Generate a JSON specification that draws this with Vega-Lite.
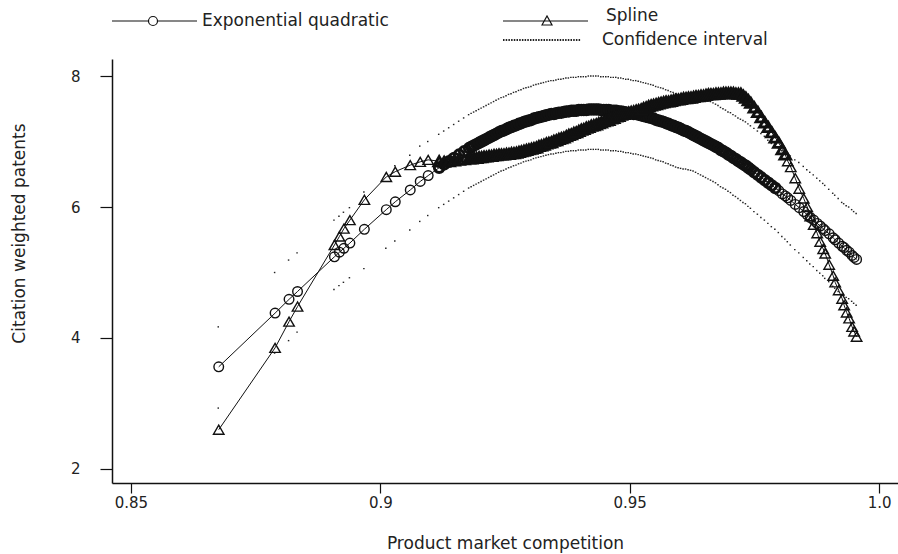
{
"$schema":"https://vega.github.io/schema/vega-lite/v6.json",
"width":786,"height":424,
"autosize":{"type":"none"},
"padding":{"left":112,"top":59,"right":0,"bottom":71},
"background":"white",
"config":{
 "view":{"stroke":null},
 "font":"DejaVu Sans",
 "axis":{"grid":false,"domainColor":"#111","domainWidth":1.5,"tickColor":"#111","tickWidth":1.2,"labelFont":"DejaVu Sans","labelFontSize":15,"labelColor":"#222","titleFont":"DejaVu Sans","titleFontSize":17,"titleFontWeight":"normal","titleColor":"#222","labelFlush":false,"labelOverlap":false},
 "legend":{"labelFont":"DejaVu Sans","labelFontSize":17,"labelColor":"#222","padding":0,"labelLimit":0}
},
"data":{"values":[
{"x":0.8676,"e":3.56,"s":2.6,"lo":2.93,"hi":4.17},
{"x":0.8789,"e":4.38,"s":3.85,"lo":3.77,"hi":5.0},
{"x":0.8817,"e":4.59,"s":4.25,"lo":3.96,"hi":5.19},
{"x":0.8834,"e":4.71,"s":4.48,"lo":4.09,"hi":5.3},
{"x":0.8908,"e":5.24,"s":5.42,"lo":4.74,"hi":5.8},
{"x":0.8918,"e":5.31,"s":5.55,"lo":4.8,"hi":5.86},
{"x":0.8927,"e":5.37,"s":5.67,"lo":4.85,"hi":5.92},
{"x":0.8939,"e":5.45,"s":5.8,"lo":4.92,"hi":5.99},
{"x":0.8968,"e":5.66,"s":6.11,"lo":5.06,"hi":6.23},
{"x":0.9012,"e":5.96,"s":6.46,"lo":5.37,"hi":6.51},
{"x":0.903,"e":6.08,"s":6.54,"lo":5.48,"hi":6.63},
{"x":0.906,"e":6.26,"s":6.64,"lo":5.65,"hi":6.79},
{"x":0.908,"e":6.39,"s":6.69,"lo":5.78,"hi":6.93},
{"x":0.9096,"e":6.48,"s":6.72,"lo":5.87,"hi":7.0},
{"x":0.9118,"e":6.6,"s":6.7,"lo":5.99,"hi":7.11},
{"x":0.9128,"e":6.65,"s":6.69,"lo":6.04,"hi":7.16},
{"x":0.9138,"e":6.7,"s":6.7,"lo":6.09,"hi":7.21},
{"x":0.9148,"e":6.75,"s":6.71,"lo":6.14,"hi":7.26},
{"x":0.9158,"e":6.8,"s":6.72,"lo":6.19,"hi":7.31},
{"x":0.9168,"e":6.85,"s":6.73,"lo":6.24,"hi":7.36},
{"x":0.9178,"e":6.9,"s":6.74,"lo":6.29,"hi":7.41},
{"x":0.9183,"e":6.92,"s":6.74,"lo":6.31,"hi":7.43},
{"x":0.9188,"e":6.94,"s":6.75,"lo":6.33,"hi":7.45},
{"x":0.9193,"e":6.96,"s":6.75,"lo":6.35,"hi":7.47},
{"x":0.9198,"e":6.98,"s":6.76,"lo":6.37,"hi":7.49},
{"x":0.9203,"e":7.0,"s":6.76,"lo":6.39,"hi":7.51},
{"x":0.9208,"e":7.02,"s":6.77,"lo":6.41,"hi":7.53},
{"x":0.9213,"e":7.04,"s":6.77,"lo":6.43,"hi":7.55},
{"x":0.9218,"e":7.06,"s":6.78,"lo":6.45,"hi":7.57},
{"x":0.9223,"e":7.08,"s":6.78,"lo":6.47,"hi":7.59},
{"x":0.9228,"e":7.1,"s":6.79,"lo":6.49,"hi":7.61},
{"x":0.9233,"e":7.12,"s":6.79,"lo":6.51,"hi":7.63},
{"x":0.9238,"e":7.14,"s":6.8,"lo":6.53,"hi":7.65},
{"x":0.9243,"e":7.16,"s":6.8,"lo":6.55,"hi":7.67},
{"x":0.9248,"e":7.17,"s":6.8,"lo":6.56,"hi":7.68},
{"x":0.9253,"e":7.19,"s":6.81,"lo":6.58,"hi":7.7},
{"x":0.9258,"e":7.21,"s":6.81,"lo":6.6,"hi":7.72},
{"x":0.9263,"e":7.22,"s":6.82,"lo":6.61,"hi":7.73},
{"x":0.9268,"e":7.24,"s":6.82,"lo":6.63,"hi":7.75},
{"x":0.9273,"e":7.25,"s":6.83,"lo":6.64,"hi":7.76},
{"x":0.9278,"e":7.27,"s":6.84,"lo":6.66,"hi":7.78},
{"x":0.9283,"e":7.28,"s":6.85,"lo":6.67,"hi":7.79},
{"x":0.9288,"e":7.3,"s":6.86,"lo":6.69,"hi":7.81},
{"x":0.9293,"e":7.31,"s":6.87,"lo":6.7,"hi":7.82},
{"x":0.9298,"e":7.32,"s":6.88,"lo":6.71,"hi":7.83},
{"x":0.9303,"e":7.33,"s":6.89,"lo":6.72,"hi":7.84},
{"x":0.9308,"e":7.35,"s":6.9,"lo":6.74,"hi":7.86},
{"x":0.9313,"e":7.36,"s":6.91,"lo":6.75,"hi":7.87},
{"x":0.9318,"e":7.37,"s":6.93,"lo":6.76,"hi":7.88},
{"x":0.9323,"e":7.38,"s":6.94,"lo":6.77,"hi":7.89},
{"x":0.9328,"e":7.39,"s":6.95,"lo":6.78,"hi":7.9},
{"x":0.9333,"e":7.4,"s":6.97,"lo":6.79,"hi":7.91},
{"x":0.9338,"e":7.41,"s":6.98,"lo":6.8,"hi":7.92},
{"x":0.9343,"e":7.42,"s":6.99,"lo":6.81,"hi":7.93},
{"x":0.9348,"e":7.42,"s":7.01,"lo":6.81,"hi":7.93},
{"x":0.9353,"e":7.43,"s":7.02,"lo":6.82,"hi":7.94},
{"x":0.9358,"e":7.44,"s":7.04,"lo":6.83,"hi":7.95},
{"x":0.9363,"e":7.44,"s":7.05,"lo":6.83,"hi":7.95},
{"x":0.9368,"e":7.45,"s":7.06,"lo":6.84,"hi":7.96},
{"x":0.9373,"e":7.46,"s":7.08,"lo":6.85,"hi":7.97},
{"x":0.9378,"e":7.46,"s":7.1,"lo":6.85,"hi":7.97},
{"x":0.9383,"e":7.47,"s":7.11,"lo":6.86,"hi":7.98},
{"x":0.9388,"e":7.47,"s":7.13,"lo":6.86,"hi":7.98},
{"x":0.9393,"e":7.47,"s":7.14,"lo":6.86,"hi":7.98},
{"x":0.9398,"e":7.48,"s":7.16,"lo":6.87,"hi":7.99},
{"x":0.9403,"e":7.48,"s":7.18,"lo":6.87,"hi":7.99},
{"x":0.9408,"e":7.48,"s":7.19,"lo":6.87,"hi":7.99},
{"x":0.9413,"e":7.48,"s":7.21,"lo":6.87,"hi":7.99},
{"x":0.9418,"e":7.49,"s":7.22,"lo":6.88,"hi":8.0},
{"x":0.9423,"e":7.49,"s":7.24,"lo":6.88,"hi":8.0},
{"x":0.9428,"e":7.49,"s":7.25,"lo":6.88,"hi":8.0},
{"x":0.9433,"e":7.49,"s":7.26,"lo":6.88,"hi":8.0},
{"x":0.9438,"e":7.49,"s":7.28,"lo":6.88,"hi":8.0},
{"x":0.9443,"e":7.48,"s":7.29,"lo":6.87,"hi":7.99},
{"x":0.9448,"e":7.48,"s":7.31,"lo":6.87,"hi":7.99},
{"x":0.9453,"e":7.48,"s":7.32,"lo":6.87,"hi":7.99},
{"x":0.9458,"e":7.48,"s":7.33,"lo":6.87,"hi":7.99},
{"x":0.9463,"e":7.47,"s":7.35,"lo":6.86,"hi":7.98},
{"x":0.9468,"e":7.47,"s":7.36,"lo":6.86,"hi":7.98},
{"x":0.9473,"e":7.47,"s":7.38,"lo":6.86,"hi":7.98},
{"x":0.9478,"e":7.46,"s":7.39,"lo":6.85,"hi":7.97},
{"x":0.9483,"e":7.46,"s":7.41,"lo":6.85,"hi":7.97},
{"x":0.9488,"e":7.45,"s":7.42,"lo":6.84,"hi":7.96},
{"x":0.9493,"e":7.44,"s":7.43,"lo":6.83,"hi":7.95},
{"x":0.9498,"e":7.44,"s":7.44,"lo":6.83,"hi":7.95},
{"x":0.9503,"e":7.43,"s":7.45,"lo":6.82,"hi":7.94},
{"x":0.9508,"e":7.42,"s":7.46,"lo":6.81,"hi":7.93},
{"x":0.9513,"e":7.42,"s":7.47,"lo":6.81,"hi":7.93},
{"x":0.9518,"e":7.41,"s":7.48,"lo":6.8,"hi":7.92},
{"x":0.9523,"e":7.4,"s":7.49,"lo":6.79,"hi":7.91},
{"x":0.9528,"e":7.39,"s":7.51,"lo":6.78,"hi":7.9},
{"x":0.9533,"e":7.38,"s":7.52,"lo":6.77,"hi":7.89},
{"x":0.9538,"e":7.37,"s":7.54,"lo":6.76,"hi":7.88},
{"x":0.9543,"e":7.36,"s":7.55,"lo":6.75,"hi":7.87},
{"x":0.9548,"e":7.35,"s":7.56,"lo":6.74,"hi":7.86},
{"x":0.9553,"e":7.33,"s":7.57,"lo":6.72,"hi":7.84},
{"x":0.9558,"e":7.32,"s":7.58,"lo":6.71,"hi":7.83},
{"x":0.9563,"e":7.31,"s":7.59,"lo":6.7,"hi":7.82},
{"x":0.9568,"e":7.3,"s":7.6,"lo":6.69,"hi":7.81},
{"x":0.9573,"e":7.28,"s":7.61,"lo":6.67,"hi":7.79},
{"x":0.9578,"e":7.27,"s":7.61,"lo":6.66,"hi":7.78},
{"x":0.9583,"e":7.25,"s":7.62,"lo":6.64,"hi":7.76},
{"x":0.9588,"e":7.24,"s":7.63,"lo":6.63,"hi":7.75},
{"x":0.9593,"e":7.22,"s":7.64,"lo":6.61,"hi":7.73},
{"x":0.9598,"e":7.21,"s":7.64,"lo":6.6,"hi":7.72},
{"x":0.9603,"e":7.19,"s":7.65,"lo":6.59,"hi":7.71},
{"x":0.9608,"e":7.17,"s":7.66,"lo":6.58,"hi":7.7},
{"x":0.9613,"e":7.16,"s":7.66,"lo":6.58,"hi":7.7},
{"x":0.9618,"e":7.14,"s":7.67,"lo":6.57,"hi":7.69},
{"x":0.9623,"e":7.12,"s":7.67,"lo":6.56,"hi":7.68},
{"x":0.9628,"e":7.1,"s":7.68,"lo":6.55,"hi":7.68},
{"x":0.9633,"e":7.08,"s":7.69,"lo":6.53,"hi":7.67},
{"x":0.9638,"e":7.06,"s":7.69,"lo":6.51,"hi":7.66},
{"x":0.9643,"e":7.04,"s":7.7,"lo":6.49,"hi":7.65},
{"x":0.9648,"e":7.02,"s":7.7,"lo":6.47,"hi":7.64},
{"x":0.9653,"e":7.0,"s":7.71,"lo":6.45,"hi":7.63},
{"x":0.9658,"e":6.98,"s":7.72,"lo":6.43,"hi":7.62},
{"x":0.9663,"e":6.96,"s":7.72,"lo":6.41,"hi":7.61},
{"x":0.9668,"e":6.94,"s":7.72,"lo":6.39,"hi":7.59},
{"x":0.9673,"e":6.92,"s":7.73,"lo":6.37,"hi":7.57},
{"x":0.9678,"e":6.9,"s":7.73,"lo":6.34,"hi":7.55},
{"x":0.9683,"e":6.87,"s":7.73,"lo":6.31,"hi":7.52},
{"x":0.9688,"e":6.85,"s":7.74,"lo":6.29,"hi":7.5},
{"x":0.9693,"e":6.83,"s":7.74,"lo":6.27,"hi":7.48},
{"x":0.9698,"e":6.8,"s":7.74,"lo":6.24,"hi":7.45},
{"x":0.9703,"e":6.78,"s":7.74,"lo":6.22,"hi":7.44},
{"x":0.9708,"e":6.75,"s":7.74,"lo":6.18,"hi":7.41},
{"x":0.9713,"e":6.73,"s":7.73,"lo":6.16,"hi":7.39},
{"x":0.9718,"e":6.7,"s":7.73,"lo":6.13,"hi":7.36},
{"x":0.9723,"e":6.68,"s":7.73,"lo":6.1,"hi":7.34},
{"x":0.9728,"e":6.65,"s":7.7,"lo":6.07,"hi":7.32},
{"x":0.9733,"e":6.63,"s":7.67,"lo":6.05,"hi":7.3},
{"x":0.9738,"e":6.6,"s":7.63,"lo":6.01,"hi":7.27},
{"x":0.9743,"e":6.57,"s":7.59,"lo":5.98,"hi":7.24},
{"x":0.975,"e":6.53,"s":7.52,"lo":5.93,"hi":7.2},
{"x":0.9757,"e":6.49,"s":7.45,"lo":5.89,"hi":7.16},
{"x":0.9764,"e":6.45,"s":7.37,"lo":5.84,"hi":7.12},
{"x":0.9771,"e":6.41,"s":7.29,"lo":5.8,"hi":7.08},
{"x":0.9778,"e":6.37,"s":7.22,"lo":5.75,"hi":7.02},
{"x":0.9785,"e":6.33,"s":7.14,"lo":5.7,"hi":6.97},
{"x":0.9792,"e":6.29,"s":7.06,"lo":5.66,"hi":6.93},
{"x":0.9799,"e":6.25,"s":6.98,"lo":5.61,"hi":6.9},
{"x":0.9806,"e":6.2,"s":6.88,"lo":5.55,"hi":6.86},
{"x":0.9812,"e":6.17,"s":6.8,"lo":5.51,"hi":6.83},
{"x":0.9817,"e":6.14,"s":6.7,"lo":5.47,"hi":6.81},
{"x":0.9823,"e":6.1,"s":6.61,"lo":5.42,"hi":6.78},
{"x":0.9832,"e":6.04,"s":6.44,"lo":5.35,"hi":6.72},
{"x":0.984,"e":5.99,"s":6.28,"lo":5.3,"hi":6.68},
{"x":0.9849,"e":5.93,"s":6.13,"lo":5.23,"hi":6.62},
{"x":0.9856,"e":5.88,"s":6.0,"lo":5.18,"hi":6.57},
{"x":0.9862,"e":5.84,"s":5.86,"lo":5.13,"hi":6.53},
{"x":0.9869,"e":5.8,"s":5.73,"lo":5.09,"hi":6.49},
{"x":0.9876,"e":5.75,"s":5.6,"lo":5.03,"hi":6.44},
{"x":0.9882,"e":5.71,"s":5.47,"lo":4.99,"hi":6.4},
{"x":0.9888,"e":5.67,"s":5.36,"lo":4.95,"hi":6.36},
{"x":0.9892,"e":5.64,"s":5.29,"lo":4.91,"hi":6.33},
{"x":0.99,"e":5.59,"s":5.12,"lo":4.86,"hi":6.27},
{"x":0.9908,"e":5.53,"s":4.95,"lo":4.79,"hi":6.21},
{"x":0.9912,"e":5.5,"s":4.85,"lo":4.76,"hi":6.18},
{"x":0.9919,"e":5.45,"s":4.73,"lo":4.71,"hi":6.13},
{"x":0.9926,"e":5.4,"s":4.6,"lo":4.66,"hi":6.07},
{"x":0.993,"e":5.38,"s":4.5,"lo":4.65,"hi":6.05},
{"x":0.9935,"e":5.34,"s":4.39,"lo":4.62,"hi":6.02},
{"x":0.994,"e":5.31,"s":4.3,"lo":4.6,"hi":6.0},
{"x":0.9946,"e":5.26,"s":4.17,"lo":4.56,"hi":5.96},
{"x":0.995,"e":5.23,"s":4.1,"lo":4.53,"hi":5.93},
{"x":0.9955,"e":5.2,"s":4.02,"lo":4.5,"hi":5.9}
]},
"encoding":{"x":{"field":"x","type":"quantitative","scale":{"domain":[0.8462,1.0038],"nice":false,"zero":false},"axis":{"values":[0.85,0.9,0.95,1.0],"labelExpr":"datum.value == 1 ? '1.0' : '' + datum.value","tickSize":10,"labelPadding":2,"title":"Product market competition","titleY":65,"titleBaseline":"alphabetic"}}},
"resolve":{"scale":{"shape":"independent"},"legend":{"shape":"independent"}},
"layer":[
 {"mark":{"type":"point","shape":"stroke","filled":false,"size":6,"strokeWidth":1.4,"color":"#222","opacity":1},
  "encoding":{"y":{"field":"hi","type":"quantitative","scale":{"domain":[1.786,8.26],"nice":false,"zero":false},"axis":{"values":[2,4,6,8],"tickSize":12,"labelPadding":20,"title":"Citation weighted patents","titleX":-93,"titleY":174,"titleBaseline":"middle"}},
   "strokeDash":{"datum":"Confidence interval","scale":{"range":[[1.5,1.2]]},"legend":{"title":null,"orient":"none","legendX":390,"legendY":-59,"symbolSize":6084,"symbolStrokeWidth":2,"labelOffset":20}}}},
 {"mark":{"type":"point","shape":"stroke","filled":false,"size":6,"strokeWidth":1.4,"color":"#222","opacity":1},
  "encoding":{"y":{"field":"lo","type":"quantitative","scale":{"domain":[1.786,8.26],"nice":false,"zero":false},"axis":{"values":[2,4,6,8],"tickSize":12,"labelPadding":20,"title":"Citation weighted patents","titleX":-93,"titleY":174,"titleBaseline":"middle"}},
   "strokeDash":{"datum":"Confidence interval","scale":{"range":[[1.5,1.2]]},"legend":{"title":null,"orient":"none","legendX":390,"legendY":-59,"symbolSize":6084,"symbolStrokeWidth":2,"labelOffset":20}}}},
 {"mark":{"type":"line","color":"#111","strokeWidth":1},
  "encoding":{"y":{"field":"e","type":"quantitative","scale":{"domain":[1.786,8.26],"nice":false,"zero":false},"axis":{"values":[2,4,6,8],"tickSize":12,"labelPadding":20,"title":"Citation weighted patents","titleX":-93,"titleY":174,"titleBaseline":"middle"}}}},
 {"mark":{"type":"line","color":"#111","strokeWidth":1},
  "encoding":{"y":{"field":"s","type":"quantitative","scale":{"domain":[1.786,8.26],"nice":false,"zero":false},"axis":{"values":[2,4,6,8],"tickSize":12,"labelPadding":20,"title":"Citation weighted patents","titleX":-93,"titleY":174,"titleBaseline":"middle"}}}},
 {"transform":[{"filter":"datum.x < 0.911 || datum.x > 0.9795"}],
  "mark":{"type":"point","shape":"circle","filled":false,"size":92,"strokeWidth":1.4,"color":"#111","opacity":1},
  "encoding":{"y":{"field":"e","type":"quantitative","scale":{"domain":[1.786,8.26],"nice":false,"zero":false},"axis":{"values":[2,4,6,8],"tickSize":12,"labelPadding":20,"title":"Citation weighted patents","titleX":-93,"titleY":174,"titleBaseline":"middle"}}}},
 {"transform":[{"filter":"datum.x >= 0.911 && datum.x <= 0.9795"}],
  "mark":{"type":"point","shape":"circle","filled":false,"size":92,"strokeWidth":2.9,"color":"#111","opacity":1},
  "encoding":{"y":{"field":"e","type":"quantitative","scale":{"domain":[1.786,8.26],"nice":false,"zero":false},"axis":{"values":[2,4,6,8],"tickSize":12,"labelPadding":20,"title":"Citation weighted patents","titleX":-93,"titleY":174,"titleBaseline":"middle"}}}},
 {"transform":[{"filter":"datum.x < 0.911 || datum.x > 0.9812"}],
  "mark":{"type":"point","shape":"triangle-up","filled":false,"size":110,"strokeWidth":1.4,"color":"#111","opacity":1},
  "encoding":{"y":{"field":"s","type":"quantitative","scale":{"domain":[1.786,8.26],"nice":false,"zero":false},"axis":{"values":[2,4,6,8],"tickSize":12,"labelPadding":20,"title":"Citation weighted patents","titleX":-93,"titleY":174,"titleBaseline":"middle"}}}},
 {"transform":[{"filter":"datum.x >= 0.911 && datum.x <= 0.9812"}],
  "mark":{"type":"point","shape":"triangle-up","filled":false,"size":110,"strokeWidth":2.9,"color":"#111","opacity":1},
  "encoding":{"y":{"field":"s","type":"quantitative","scale":{"domain":[1.786,8.26],"nice":false,"zero":false},"axis":{"values":[2,4,6,8],"tickSize":12,"labelPadding":20,"title":"Citation weighted patents","titleX":-93,"titleY":174,"titleBaseline":"middle"}}}},
 {"transform":[{"filter":"datum.x == 0.8676"}],
  "mark":{"type":"point","filled":false,"opacity":0,"color":"#111","strokeWidth":1.2},
  "encoding":{"y":{"field":"e","type":"quantitative","scale":{"domain":[1.786,8.26],"nice":false,"zero":false},"axis":{"values":[2,4,6,8],"tickSize":12,"labelPadding":20,"title":"Citation weighted patents","titleX":-93,"titleY":174,"titleBaseline":"middle"}},
   "shape":{"datum":"Exponential quadratic","scale":{"range":["M-1,0H6.3M8.1,0H16M8.1,0A0.9,0.9 0 1 1 6.3,0A0.9,0.9 0 1 1 8.1,0"]},
    "legend":{"title":null,"orient":"none","legendX":-3.5,"legendY":-46.5,"symbolSize":100,"symbolOpacity":1,"symbolStrokeColor":"#111","symbolStrokeWidth":1.2,"labelOffset":76.5}}}},
 {"transform":[{"filter":"datum.x == 0.8676"}],
  "mark":{"type":"point","filled":false,"opacity":0,"color":"#111","strokeWidth":1.2},
  "encoding":{"y":{"field":"s","type":"quantitative","scale":{"domain":[1.786,8.26],"nice":false,"zero":false},"axis":{"values":[2,4,6,8],"tickSize":12,"labelPadding":20,"title":"Citation weighted patents","titleX":-93,"titleY":174,"titleBaseline":"middle"}},
   "shape":{"datum":"Spline","scale":{"range":["M-1,0H16M6.8,0.8L7.8,-1L8.8,0.8Z"]},
    "legend":{"title":null,"orient":"none","legendX":387.5,"legendY":-46.5,"symbolSize":100,"symbolOpacity":1,"symbolStrokeColor":"#111","symbolStrokeWidth":1.2,"labelOffset":89.5,"labelBaseline":"alphabetic"}}}}
]
}
